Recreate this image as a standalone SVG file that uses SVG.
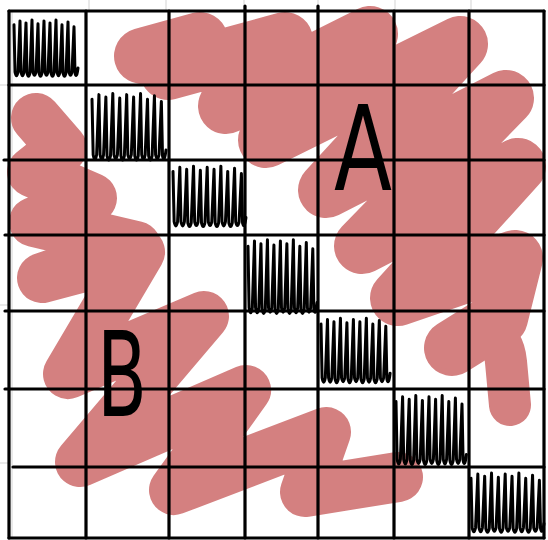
<svg xmlns="http://www.w3.org/2000/svg" width="548" height="540" viewBox="0 0 548 540">
<style>
.bg{fill:#ffffff}
.faint{stroke:#e2e2e2;stroke-width:1.5;fill:none}
.red{fill:none;stroke:#d48080;stroke-linecap:round;stroke-linejoin:round}
.grid{stroke:#000;stroke-width:3.2;stroke-linecap:round;fill:none}
.scr{fill:none;stroke:#000;stroke-width:3;stroke-linejoin:round;stroke-linecap:round}
.lbl{font-family:"DejaVu Sans","Liberation Sans",sans-serif;font-size:118px;fill:#000}
</style>
<defs>
<path id="scrib" class="scr" vector-effect="non-scaling-stroke" d="M0,8 L1,56 Q2.5,64 4,56 L6,4 L7,56 Q8.5,64 10,56 L12,6 L13,57 Q14.5,64 16,57 L18,3 L19,56 Q20.5,63 22,56 L24,7 L25,57 Q26.5,64 28,57 L30,4 L31,56 Q32.5,63 34,56 L36,6 L37,57 Q38.5,64 40,57 L42,3 L43,56 Q44.5,64 46,56 L48,8 L49,57 Q50.5,64 52,57 L54,5 L55,56 Q56.5,63 58,56 L60,10 L61,57 Q62.5,64 64,52"/>
</defs>
<rect class="bg" x="0" y="0" width="548" height="540"/>
<g id="paper">
<path class="faint" d="M89,0V11 M166,0V11 M244,0V11 M318,0V11 M395,0V11 M471,0V11 M0,85H9 M0,305H9 M0,463H9 M12,11V538"/>
</g>
<g id="scribble-a">
<path class="red" stroke-width="56" d="M142,56 L200,40 L168,72 L285,40 L226,106 L370,34 L266,140 L460,44 L326,190 L506,98 L362,246 L518,166 L398,298 L515,258 L500,318 L452,348"/>
<path class="red" stroke-width="42" d="M450,348 Q502,318 506,362 L510,405"/>
</g>
<g id="scribble-b">
<path class="red" stroke-width="50" d="M36,118 L62,148 L32,172 L92,198 L34,222 L136,246 L42,278 L140,252 L68,374 L204,316 L80,462 L246,390 L174,490 L326,432 L305,492 L398,477"/>
</g>
<g id="grid">
<path class="grid" d="M9,11H544 M9,85H544 M4,160H544 M5,235H544 M5,311H544 M5,389H544 M13,467H544 M9,538H544"/>
<path class="grid" d="M9,11V538 M86,11V538 M169,11V538 M245,6V538 M318,6V538 M394,11V538 M469,11V538 M544,11V538"/>
</g>
<g id="diagonal">
<use href="#scrib" transform="translate(14,17) scale(1,0.98)"/>
<use href="#scrib" transform="translate(92,90) scale(1.156,1.156)"/>
<use href="#scrib" transform="translate(173,163) scale(1.14,1.05)"/>
<use href="#scrib" transform="translate(248,236) scale(1.08,1.28)"/>
<use href="#scrib" transform="translate(321,315) scale(1.08,1.12)"/>
<use href="#scrib" transform="translate(396,392) scale(1.1,1.2)"/>
<use href="#scrib" transform="translate(471,470) scale(1.14,1.03)"/>
</g>
<g id="labels">
<text class="lbl" x="334" y="190" textLength="58" lengthAdjust="spacingAndGlyphs">A</text>
<text class="lbl" x="97" y="416" textLength="50" lengthAdjust="spacingAndGlyphs">B</text>
</g>
</svg>
